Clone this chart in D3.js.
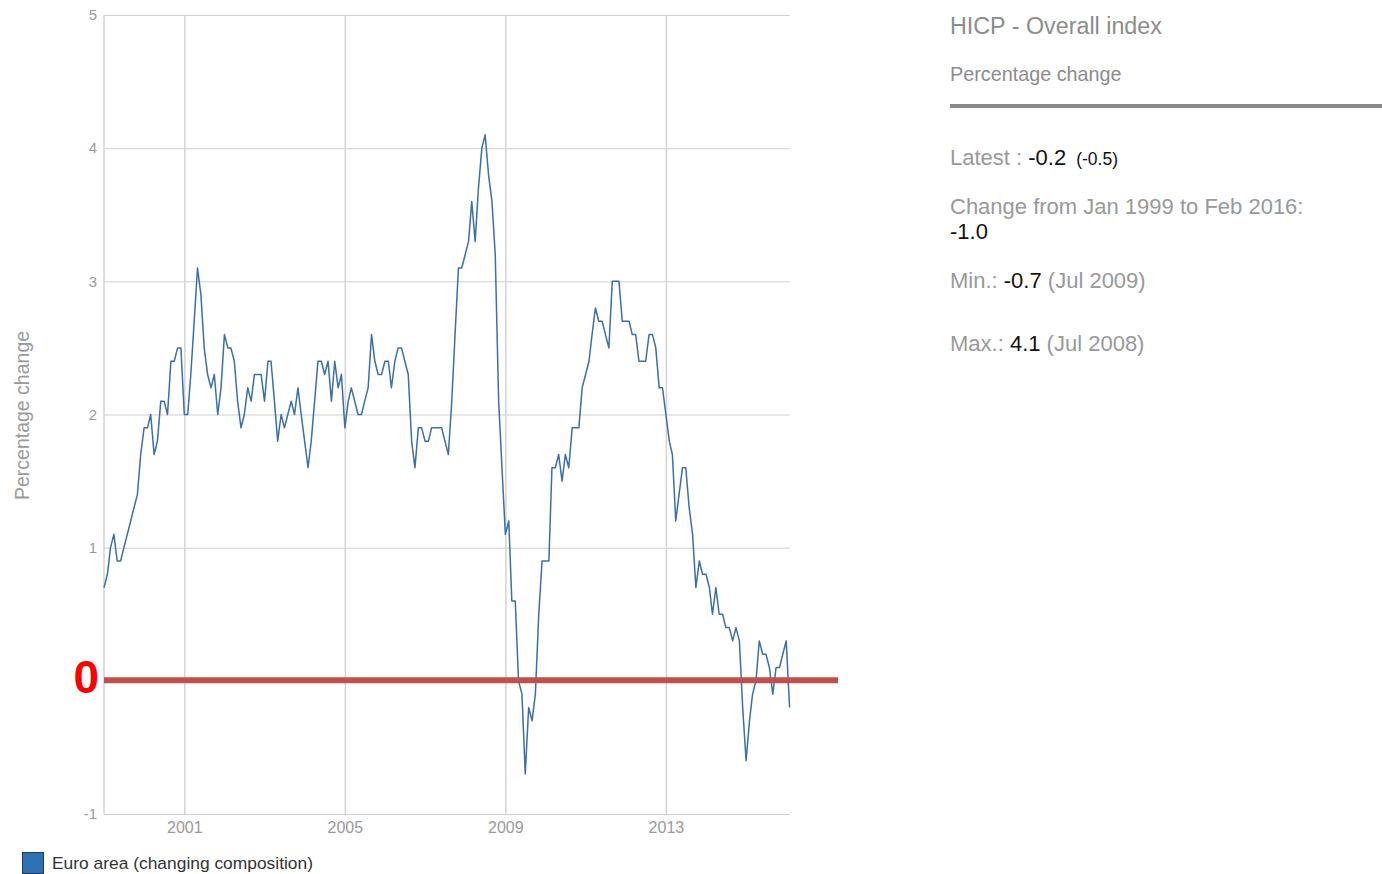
<!DOCTYPE html>
<html>
<head>
<meta charset="utf-8">
<script src="https://cdn.jsdelivr.net/npm/d3@7"></script>
<style>
  html, body { margin: 0; padding: 0; background: #fff; }
  svg { display: block; font-family: "Liberation Sans", Arial, sans-serif; }
</style>
</head>
<body>
<svg id="chart" width="1382" height="874"></svg>
<script>
// ---- data (monthly, year-on-year % change, Jan 1999 .. Feb 2016) ----
const startYear = 1999;
const hicp = [
  0.7, 0.8, 1.0, 1.1, 0.9, 0.9, 1.0, 1.1, 1.2, 1.3, 1.4, 1.7,   // 1999
  1.9, 1.9, 2.0, 1.7, 1.8, 2.1, 2.1, 2.0, 2.4, 2.4, 2.5, 2.5,   // 2000
  2.0, 2.0, 2.3, 2.7, 3.1, 2.9, 2.5, 2.3, 2.2, 2.3, 2.0, 2.2,   // 2001
  2.6, 2.5, 2.5, 2.4, 2.1, 1.9, 2.0, 2.2, 2.1, 2.3, 2.3, 2.3,   // 2002
  2.1, 2.4, 2.4, 2.1, 1.8, 2.0, 1.9, 2.0, 2.1, 2.0, 2.2, 2.0,   // 2003
  1.8, 1.6, 1.8, 2.1, 2.4, 2.4, 2.3, 2.4, 2.1, 2.4, 2.2, 2.3,   // 2004
  1.9, 2.1, 2.2, 2.1, 2.0, 2.0, 2.1, 2.2, 2.6, 2.4, 2.3, 2.3,   // 2005
  2.4, 2.4, 2.2, 2.4, 2.5, 2.5, 2.4, 2.3, 1.8, 1.6, 1.9, 1.9,   // 2006
  1.8, 1.8, 1.9, 1.9, 1.9, 1.9, 1.8, 1.7, 2.1, 2.6, 3.1, 3.1,   // 2007
  3.2, 3.3, 3.6, 3.3, 3.7, 4.0, 4.1, 3.8, 3.6, 3.2, 2.1, 1.6,   // 2008
  1.1, 1.2, 0.6, 0.6, 0.0, -0.1, -0.7, -0.2, -0.3, -0.1, 0.5, 0.9, // 2009
  0.9, 0.9, 1.6, 1.6, 1.7, 1.5, 1.7, 1.6, 1.9, 1.9, 1.9, 2.2,   // 2010
  2.3, 2.4, 2.6, 2.8, 2.7, 2.7, 2.6, 2.5, 3.0, 3.0, 3.0, 2.7,   // 2011
  2.7, 2.7, 2.6, 2.6, 2.4, 2.4, 2.4, 2.6, 2.6, 2.5, 2.2, 2.2,   // 2012
  2.0, 1.8, 1.7, 1.2, 1.4, 1.6, 1.6, 1.3, 1.1, 0.7, 0.9, 0.8,   // 2013
  0.8, 0.7, 0.5, 0.7, 0.5, 0.5, 0.4, 0.4, 0.3, 0.4, 0.3, -0.2,  // 2014
  -0.6, -0.3, -0.1, 0.0, 0.3, 0.2, 0.2, 0.1, -0.1, 0.1, 0.1, 0.2, // 2015
  0.3, -0.2                                                      // 2016
];
const yTicks = [-1, 0, 1, 2, 3, 4, 5];
const yTickLabels = ["-1", "", "1", "2", "3", "4", "5"];
const xTickYears = [2001, 2005, 2009, 2013];
const seriesName = "Euro area (changing composition)";
const yTitle = "Percentage change";
const panelTitle = "HICP - Overall index";
const panelSubtitle = "Percentage change";
const latest = ["-0.2", "(-0.5)"];
const changeLabel = "Change from Jan 1999 to Feb 2016:";
const changeValue = "-1.0";
const minStat = ["-0.7", "(Jul 2009)"];
const maxStat = ["4.1", "(Jul 2008)"];
const zeroLabel = "0";

// ---- build ----
const data = hicp.map((v, i) => ({ date: new Date(startYear, i, 1), value: v }));
const svg = d3.select("#chart");
const plot = { left: 104, right: 789.6, top: 15, bottom: 814 };

const x = d3.scaleTime()
  .domain([new Date(startYear, 0, 1), data[data.length - 1].date])
  .range([plot.left, plot.right]);
const y = d3.scaleLinear().domain([-1, 5]).range([plot.bottom, plot.top]);

const grey = "#9a9a9a";

// horizontal grid
svg.append("g")
  .attr("transform", `translate(${plot.left},0)`)
  .call(d3.axisLeft(y).tickValues(yTicks).tickSize(-(plot.right - plot.left)).tickFormat(""))
  .call(g => g.select(".domain").remove())
  .call(g => g.selectAll("line").attr("stroke", "#cfcfcf").attr("stroke-width", 1));

// vertical grid
svg.append("g")
  .attr("transform", `translate(0,${plot.bottom})`)
  .call(d3.axisBottom(x).tickValues(xTickYears.map(yr => new Date(yr, 0, 1)))
    .tickSize(-(plot.bottom - plot.top)).tickFormat(""))
  .call(g => g.select(".domain").remove())
  .call(g => g.selectAll("line").attr("stroke", "#d6d6d6").attr("stroke-width", 1.6));

// left axis line
svg.append("line")
  .attr("x1", plot.left).attr("x2", plot.left)
  .attr("y1", plot.top).attr("y2", plot.bottom)
  .attr("stroke", "#d6d6d6").attr("stroke-width", 1.6);

// y tick labels
svg.append("g")
  .attr("transform", `translate(${plot.left},0)`)
  .call(d3.axisLeft(y).tickValues(yTicks).tickSize(0).tickPadding(7)
    .tickFormat((d, i) => yTickLabels[i]))
  .call(g => g.select(".domain").remove())
  .call(g => g.selectAll("text").attr("fill", grey).attr("font-size", 15)
    .attr("font-family", '"Liberation Sans", Arial, sans-serif'));

// x tick labels
svg.append("g")
  .attr("transform", `translate(0,${plot.bottom})`)
  .call(d3.axisBottom(x).tickValues(xTickYears.map(yr => new Date(yr, 0, 1)))
    .tickSize(0).tickPadding(8).tickFormat(d3.timeFormat("%Y")))
  .call(g => g.select(".domain").remove())
  .call(g => g.selectAll("text").attr("fill", grey).attr("font-size", 16)
    .attr("font-family", '"Liberation Sans", Arial, sans-serif'));

// y title
svg.append("text")
  .attr("transform", `translate(29,${(plot.top + plot.bottom) / 2 + 1}) rotate(-90)`)
  .attr("text-anchor", "middle")
  .attr("fill", grey).attr("font-size", 19.5)
  .text(yTitle);

// series line
const line = d3.line().x(d => x(d.date)).y(d => y(d.value));
svg.append("path")
  .datum(data)
  .attr("fill", "none")
  .attr("stroke", "#3b6fa6")
  .attr("stroke-width", 1.5)
  .attr("stroke-linejoin", "round")
  .attr("d", line);

// zero highlight
svg.append("line")
  .attr("x1", plot.left).attr("x2", 838)
  .attr("y1", y(0) - 0.5).attr("y2", y(0) - 0.5)
  .attr("stroke", "#c0504d").attr("stroke-width", 6);
svg.append("text")
  .attr("x", 99).attr("y", y(0) + 12)
  .attr("text-anchor", "end")
  .attr("fill", "#ff0000").attr("font-size", 46).attr("font-weight", "bold")
  .text(zeroLabel);

// legend
svg.append("rect")
  .attr("x", 22.5).attr("y", 852.5).attr("width", 21).attr("height", 21)
  .attr("fill", "#2f72b4").attr("stroke", "#1d3a57").attr("stroke-width", 1);
svg.append("text")
  .attr("x", 52).attr("y", 869)
  .attr("fill", "#333").attr("font-size", 17.4)
  .text(seriesName);

// right panel
const px = 950;
svg.append("text").attr("x", px).attr("y", 34)
  .attr("fill", "#8c8c8c").attr("font-size", 23.3).text(panelTitle);
svg.append("text").attr("x", px).attr("y", 81)
  .attr("fill", "#8c8c8c").attr("font-size", 19.8).text(panelSubtitle);
svg.append("line").attr("x1", px).attr("x2", 1382).attr("y1", 106).attr("y2", 106)
  .attr("stroke", "#8a8a8a").attr("stroke-width", 4);

const fs = 22;
const t1 = svg.append("text").attr("x", px).attr("y", 165).attr("font-size", fs).attr("fill", "#999");
t1.append("tspan").text("Latest : ");
t1.append("tspan").attr("fill", "#111").text(latest[0]);
t1.append("tspan").attr("fill", "#111").attr("font-size", 17.5).attr("dx", 10).text(latest[1]);

svg.append("text").attr("x", px).attr("y", 214).attr("font-size", fs).attr("fill", "#999").text(changeLabel);
svg.append("text").attr("x", px).attr("y", 239).attr("font-size", fs).attr("fill", "#111").text(changeValue);

const t3 = svg.append("text").attr("x", px).attr("y", 288).attr("font-size", fs).attr("fill", "#999");
t3.append("tspan").text("Min.: ");
t3.append("tspan").attr("fill", "#111").text(minStat[0]);
t3.append("tspan").text(" " + minStat[1]);

const t4 = svg.append("text").attr("x", px).attr("y", 351).attr("font-size", fs).attr("fill", "#999");
t4.append("tspan").text("Max.: ");
t4.append("tspan").attr("fill", "#111").text(maxStat[0]);
t4.append("tspan").text(" " + maxStat[1]);
</script>
</body>
</html>
